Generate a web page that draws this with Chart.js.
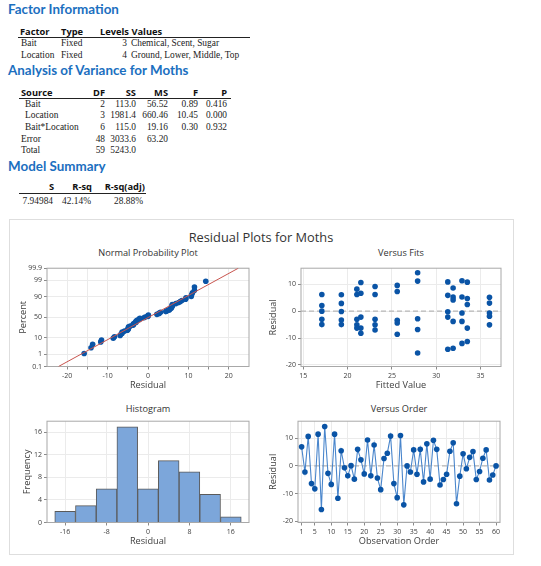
<!DOCTYPE html>
<html>
<head>
<meta charset="utf-8">
<script src="https://cdn.jsdelivr.net/npm/chart.js@4.4.1/dist/chart.umd.min.js"></script>
<style>
  html, body { margin: 0; padding: 0; background: #fff; }
  body { width: 541px; height: 566px; position: relative; overflow: hidden; }
  .t { position: absolute; white-space: nowrap; line-height: 1; }
  .h { font-family: Lato, 'Open Sans', sans-serif; font-weight: bold; font-size: 13.4px; color: #1b6fc0; }
  .th { font-family: 'Open Sans', 'Noto Sans', sans-serif; font-weight: bold; font-size: 9.3px; color: #111; }
  .td { font-family: 'Liberation Serif', 'DejaVu Serif', serif; font-size: 9.4px; color: #222; }
  .rule { position: absolute; height: 0; border-top: 1px solid #222; }
  #panel { position: absolute; left: 9px; top: 219px; width: 503px; height: 334px; border: 1px solid #dedede; }
  .pt { position: absolute; font-family: 'Open Sans', 'Noto Sans', sans-serif; color: #333; transform: translate(-50%, -50%); white-space: nowrap; line-height: 1; }
  canvas { position: absolute; }
</style>
</head>
<body>
<div id="panel"></div>
<div class="pt" style="left:261px; top:237px; font-size:12.8px;">Residual Plots for Moths</div>
<div class="pt" style="left:148px; top:253px; font-size:9.2px;">Normal Probability Plot</div>
<div class="pt" style="left:401px; top:253px; font-size:9.2px;">Versus Fits</div>
<div class="pt" style="left:148px; top:409px; font-size:9.2px;">Histogram</div>
<div class="pt" style="left:399px; top:409px; font-size:9.2px;">Versus Order</div>
<canvas id="normal" width="252" height="132" style="left:5px; top:262px;"></canvas>
<canvas id="fits" width="252" height="132" style="left:258px; top:262px;"></canvas>
<canvas id="hist" width="252" height="135" style="left:5px; top:415px;"></canvas>
<canvas id="order" width="252" height="135" style="left:258px; top:415px;"></canvas>
<script>
// residuals in observation order
const residuals = [6.9, -2.2, 10.7, -6.4, -8.3, 11.5, -15.8, 14.3, -2.7, -6.7,
  11.5, -11.7, 5.5, -0.7, -3.6, 0.1, -4.8, 6.0, 2.2, -2.9,
  9.4, -3.6, 7.6, -4.4, -8.6, 2.7, 4.6, 10.8, -6.4, -11.5,
  11.0, -14.1, 0.0, -2.2, 5.8, -3.0, 6.0, -5.8, 8.0, -4.8,
  9.3, 6.0, -6.9, -4.9, -3.0, 5.3, 8.4, -13.7, -3.7, 4.4,
  -1.0, 3.1, 5.2, -4.9, -2.0, 2.8, 5.8, -5.1, -3.3, 0.0];

// fitted values (cell means) and the residuals seen at each one
const fittedLevels = [17.1, 19.3, 21.05, 21.5, 23.1, 25.6, 27.9, 31.3, 31.9, 32.9, 33.5, 36.0];
const residualsAtFit = [
  [6.2, 2.1, 0.0, -3.0, -5.0],
  [6.1, 2.9, -0.1, -3.3, -5.0],
  [8.2, 6.2, -3.0, -5.1, -6.3],
  [10.7, 6.7, -2.2, -6.3, -8.2],
  [9.2, 6.2, -3.0, -5.1, -7.0],
  [9.6, 7.3, -3.4, -4.4, -8.6],
  [14.3, 11.2, -2.8, -6.8, -15.6],
  [10.9, 5.9, -0.2, -2.2, -14.2],
  [8.6, 5.3, 4.2, -3.8, -13.8],
  [11.3, 5.3, -0.7, -3.8, -12.0],
  [10.8, 4.7, 2.5, -6.3, -11.3],
  [5.2, 3.0, -0.7, -1.9, -5.1]
];

// histogram bins
const binCenters = [-16, -12, -8, -4, 0, 4, 8, 12, 16];
const binCounts = [2, 3, 6, 17, 6, 11, 9, 5, 1];

// tick values / labels
const probTicks = [0.1, 1, 10, 50, 90, 99, 99.9];
const normXTicks = [-20, -15, -10, -5, 0, 5, 10, 15, 20];
const fitsXTicks = [15, 20, 25, 30, 35];
const residYTicks = [-20, -10, 0, 10];
const histXTicks = [-16, -8, 0, 8, 16];
const histYTicks = [0, 4, 8, 12, 16];
const orderXTicks = [1, 5, 10, 15, 20, 25, 30, 35, 40, 45, 50, 55, 60];

// tables above the plots
const factorRows = [
  ['Bait', 'Fixed', '3', 'Chemical, Scent, Sugar'],
  ['Location', 'Fixed', '4', 'Ground, Lower, Middle, Top']
];
const anovaRows = [
  ['Bait', '2', '113.0', '56.52', '0.89', '0.416'],
  ['Location', '3', '1981.4', '660.46', '10.45', '0.000'],
  ['Bait*Location', '6', '115.0', '19.16', '0.30', '0.932'],
  ['Error', '48', '3033.6', '63.20', '', ''],
  ['Total', '59', '5243.0', '', '', '']
];
const summaryRow = ['7.94984', '42.14%', '28.88%'];

function put(text, x, y, cls, right) {
  const d = document.createElement('div');
  d.className = 't ' + cls;
  d.textContent = text;
  d.style.left = x + 'px';
  d.style.top = y + 'px';
  d.style.transform = right ? 'translate(-100%, -50%)' : 'translate(0, -50%)';
  document.body.appendChild(d);
}
function rule(x1, x2, y) {
  const d = document.createElement('div');
  d.className = 'rule';
  d.style.left = x1 + 'px'; d.style.width = (x2 - x1) + 'px'; d.style.top = y + 'px';
  document.body.appendChild(d);
}

put('Factor Information', 8, 10, 'h');
put('Factor', 20, 32, 'th'); put('Type', 61, 32, 'th'); put('Levels Values', 100, 32, 'th');
rule(18, 250, 37);
factorRows.forEach((r, i) => {
  const y = 44 + i * 12.3;
  put(r[0], 21, y, 'td'); put(r[1], 61, y, 'td'); put(r[2], 127, y, 'td', true); put(r[3], 131, y, 'td');
});

put('Analysis of Variance for Moths', 8, 71, 'h');
put('Source', 21, 93, 'th');
const anovaRight = [105, 136, 168, 198, 227];
['DF', 'SS', 'MS', 'F', 'P'].forEach((h, i) => put(h, anovaRight[i], 93, 'th', true));
rule(19, 231, 98);
anovaRows.forEach((r, i) => {
  const y = 104.5 + i * 11.7;
  put(r[0], i < 3 ? 25 : 21, y, 'td');
  r.slice(1).forEach((v, j) => { if (v) put(v, anovaRight[j], y, 'td', true); });
});

put('Model Summary', 8, 167, 'h');
const sumRight = [54, 92, 145];
['S', 'R-sq', 'R-sq(adj)'].forEach((h, i) => put(h, sumRight[i], 187, 'th', true));
rule(19, 146, 193);
const sumValRight = [53, 91, 143];
summaryRow.forEach((v, i) => put(v, sumValRight[i], 202, 'td', true));

// inverse normal cdf (Acklam) for the probability scale
function normInv(p) {
  const a = [-39.69683028665376, 220.9460984245205, -275.9285104469687, 138.3577518672690, -30.66479806614716, 2.506628277459239];
  const b = [-54.47609879822406, 161.5858368580409, -155.6989798598866, 66.80131188771972, -13.28068155288572];
  const c = [-0.007784894002430293, -0.3223964580411365, -2.400758277161838, -2.549732539343734, 4.374664141464968, 2.938163982698783];
  const d = [0.007784695709041462, 0.3224671290700398, 2.445134137142996, 3.754408661907416];
  const lo = 0.02425;
  if (p < lo || p > 1 - lo) {
    const q = Math.sqrt(-2 * Math.log(p < lo ? p : 1 - p));
    const v = (((((c[0] * q + c[1]) * q + c[2]) * q + c[3]) * q + c[4]) * q + c[5]) / ((((d[0] * q + d[1]) * q + d[2]) * q + d[3]) * q + 1);
    return p < lo ? v : -v;
  }
  const q = p - 0.5, r = q * q;
  return (((((a[0] * r + a[1]) * r + a[2]) * r + a[3]) * r + a[4]) * r + a[5]) * q / (((((b[0] * r + b[1]) * r + b[2]) * r + b[3]) * r + b[4]) * r + 1);
}

const n = residuals.length;
const sorted = residuals.slice().sort((p, q) => p - q);
const normPoints = sorted.map((r, i) => ({x: r, y: normInv((i + 1 - 0.3) / (n + 0.4))}));
const mean = residuals.reduce((s, v) => s + v, 0) / n;
const sd = Math.sqrt(residuals.reduce((s, v) => s + (v - mean) ** 2, 0) / (n - 1));
const zLo = normInv(probTicks[0] / 100), zHi = normInv(probTicks[probTicks.length - 1] / 100);
const fitLine = [{x: mean + sd * zLo, y: zLo}, {x: mean + sd * zHi, y: zHi}];

const fitsPoints = [];
fittedLevels.forEach((f, i) => residualsAtFit[i].forEach(r => fitsPoints.push({x: f, y: r})));
const orderPoints = residuals.map((r, i) => ({x: i + 1, y: r}));
const histData = binCenters.map((c, i) => ({x: c, y: binCounts[i]}));

Chart.defaults.font.family = "'Open Sans', 'Noto Sans', sans-serif";
Chart.defaults.color = '#404040';

// frame around the plot area + dashed zero reference
Chart.register({
  id: 'frame',
  defaults: {zeroLine: false},
  beforeDatasetsDraw(chart, args, opts) {
    const {ctx, chartArea: a} = chart;
    ctx.save();
    if (opts.zeroLine) {
      const y = chart.scales.y.getPixelForValue(0);
      ctx.strokeStyle = '#b8b8b8';
      ctx.lineWidth = 1.2;
      ctx.setLineDash([5, 3]);
      ctx.beginPath(); ctx.moveTo(a.left, y); ctx.lineTo(a.right, y); ctx.stroke();
      ctx.setLineDash([]);
    }
    ctx.strokeStyle = '#a8a8a8';
    ctx.lineWidth = 1;
    ctx.strokeRect(a.left, a.top, a.right - a.left, a.bottom - a.top);
    ctx.restore();
  }
});

function axis(o) {
  return {
    type: 'linear', min: o.min, max: o.max, offset: false,
    afterBuildTicks: s => { s.ticks = o.ticks.map(v => ({value: v})); },
    afterFit: s => { if (s.isHorizontal()) s.height = o.size; else s.width = o.size; },
    ticks: {autoSkip: false, maxRotation: 0, padding: 2, color: '#404040', font: {size: 7}, callback: o.label || (v => v)},
    grid: {color: '#ebebeb', tickColor: '#8a8a8a', tickLength: 3, offset: false},
    border: {display: false},
    title: {display: true, text: o.title, color: '#404040', font: {size: 9.2}, padding: o.titlePad}
  };
}

function options(x, y, padRight, zero) {
  return {
    responsive: false, animation: false,
    layout: {padding: {left: 0, top: 3, right: padRight, bottom: 0}},
    plugins: {legend: {display: false}, tooltip: {enabled: false}, frame: {zeroLine: !!zero}},
    scales: {x, y}
  };
}

const dotStyle = {pointRadius: 2.8, pointBackgroundColor: '#0a54a6', pointBorderWidth: 0, showLine: false};
const xTitlePad = {top: 2, bottom: 2.6};

// Normal Probability Plot
new Chart(document.getElementById('normal'), {
  type: 'scatter',
  data: {
    datasets: [
      {data: fitLine, showLine: true, borderColor: '#c8554f', borderWidth: 1, pointRadius: 0},
      Object.assign({data: normPoints}, dotStyle)
    ]
  },
  options: options(
    axis({min: -25, max: 25, ticks: normXTicks, size: 27.5, title: 'Residual', titlePad: xTitlePad,
      label: v => (v % 10 === 0 ? v : '')}),
    axis({min: zLo, max: zHi, ticks: probTicks.map(p => normInv(p / 100)), size: 42, title: 'Percent',
      titlePad: {top: 12.5, bottom: 2}, label: (v, i) => String(probTicks[i])}),
    8)
});

// Versus Fits
new Chart(document.getElementById('fits'), {
  type: 'scatter',
  data: {datasets: [Object.assign({data: fitsPoints}, dotStyle)]},
  options: options(
    axis({min: 14.75, max: 37.3, ticks: fitsXTicks, size: 27.5, title: 'Fitted Value', titlePad: xTitlePad}),
    axis({min: -20.6, max: 16, ticks: residYTicks, size: 43, title: 'Residual', titlePad: {top: 9.5, bottom: 2}}),
    9, true)
});

// Histogram
new Chart(document.getElementById('hist'), {
  type: 'bar',
  data: {
    datasets: [{data: histData, backgroundColor: '#7ca6da', borderColor: '#5a5a5a', borderWidth: 1,
      barPercentage: 1, categoryPercentage: 1}]
  },
  options: options(
    axis({min: -19.5, max: 19.5, ticks: histXTicks, size: 27.5, title: 'Residual', titlePad: xTitlePad}),
    axis({min: 0, max: 18, ticks: histYTicks, size: 42, title: 'Frequency', titlePad: {top: 16.5, bottom: 2}}),
    8)
});

// Versus Order
new Chart(document.getElementById('order'), {
  type: 'scatter',
  data: {
    datasets: [Object.assign({}, dotStyle, {data: orderPoints, showLine: true, borderColor: '#4a86cc', borderWidth: 1.1, tension: 0})]
  },
  options: options(
    axis({min: -0.1, max: 61.2, ticks: orderXTicks, size: 27.5, title: 'Observation Order', titlePad: xTitlePad}),
    axis({min: -20.5, max: 16.2, ticks: residYTicks, size: 40, title: 'Residual', titlePad: {top: 9.5, bottom: 2}}),
    10, true)
});
</script>
</body>
</html>
